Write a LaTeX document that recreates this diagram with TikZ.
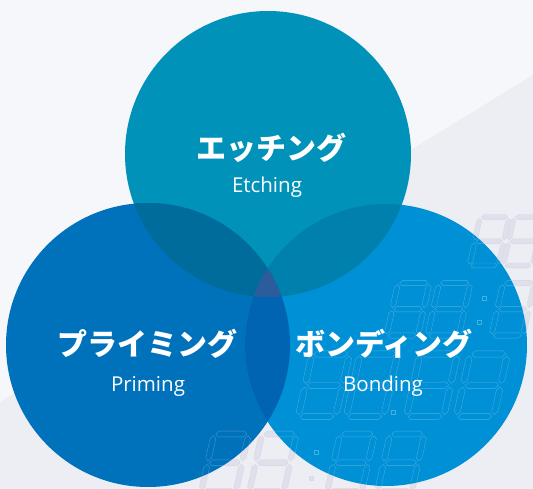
\documentclass[tikz,border=0pt]{standalone}
\usepackage{fontspec}
\newfontfamily\jpfont{Noto Sans CJK JP}
\newfontfamily\enfont{Open Sans}
\definecolor{bgA}{HTML}{F6F7FA}
\definecolor{bgB}{HTML}{ECEEF3}
\definecolor{cT}{HTML}{0092B8}
\definecolor{cL}{HTML}{0072BC}
\definecolor{cR}{HTML}{0090D6}
\definecolor{cTL}{HTML}{006C9C}
\definecolor{cTR}{HTML}{0080AC}
\definecolor{cLR}{HTML}{0064B2}
\definecolor{cTLR}{HTML}{2C5C9C}
\definecolor{segfill}{HTML}{E0E0EC}
\definecolor{segline}{HTML}{CACCDE}
\tikzset{
  jp/.style={text=white,font=\jpfont\bfseries\fontsize{30}{32}\selectfont,inner sep=0pt,anchor=base},
  en/.style={text=white,font=\enfont\fontsize{20.5}{23}\selectfont,inner sep=0pt,anchor=base},
}
\newcommand{\hsg}[3]{\path[segp] (#1,#2) -- ++(2.5,-2.5) -- ++({#3-5},0) -- ++(2.5,2.5) -- ++(-2.5,2.5) -- ++({5-#3},0) -- cycle;}
\newcommand{\vsg}[3]{\path[segp] (#1,#2) -- ++(2.5,2.5) -- ++(0,{#3-5}) -- ++(-2.5,2.5) -- ++(-2.5,-2.5) -- ++(0,{5-#3}) -- cycle;}
\newcommand{\segdigit}[3]{\begin{scope}[shift={(#1,#2)},scale=#3,xslant=0.22]
 \hsg{1.5}{0}{27}
 \hsg{1.5}{25}{27}
 \hsg{1.5}{50}{27}
 \vsg{0}{1.5}{22}
 \vsg{30}{1.5}{22}
 \vsg{0}{26.5}{22}
 \vsg{30}{26.5}{22}
\end{scope}}
\newcommand{\segdot}[3]{\begin{scope}[shift={(#1,#2)},scale=#3]\path[segp] (-2,-2) rectangle (2,2);\end{scope}}
\newcommand{\alldigits}{%
 % row A
 \segdigit{480}{217}{0.97}
 \segdigit{514}{217}{0.97}
 % row B
 \segdigit{398}{283}{1.05}
 \segdigit{439}{283}{1.05}
 \segdot{484}{298}{1}
 \segdot{479}{322}{1}
 \segdigit{503}{283}{1.05}
 % row C
 \segdigit{312}{354}{1.25}
 \segdigit{360}{354}{1.25}
 \segdot{393}{412}{1}
 \segdigit{420}{354}{1.25}
 \segdigit{470}{354}{1.25}
 % row D
 \segdigit{214}{434}{1.15}
 \segdigit{262}{434}{1.15}
 \segdot{316}{452}{1}
 \segdot{311}{478}{1}
 \segdigit{340}{434}{1.15}
 \segdigit{390}{434}{1.15}
}
\begin{document}
\begin{tikzpicture}[x=1pt,y=-1pt]
\useasboundingbox (0,0) rectangle (533,489);
\fill[bgA] (0,0) rectangle (533,489);
\fill[bgB] (533,75) -- (533,489) -- (0,489) -- (0,402) -- cycle;
\coordinate (T) at (268,154);
\coordinate (L) at (148,345);
\coordinate (R) at (386,345);
\begin{scope}
\clip (0,0) rectangle (533,489);
% digits on background
\begin{scope}[segp/.style={fill=segfill,draw=segline,line width=0.35pt}]
\alldigits
\end{scope}
% circles
\fill[cT] (T) circle[radius=143pt];
\fill[cL] (L) circle[radius=142pt];
\fill[cR] (R) circle[radius=141pt];
\begin{scope}
 \clip (T) circle[radius=143pt];
 \fill[cTL] (L) circle[radius=142pt];
 \fill[cTR] (R) circle[radius=141pt];
\end{scope}
\begin{scope}
 \clip (L) circle[radius=142pt];
 \fill[cLR] (R) circle[radius=141pt];
 \clip (R) circle[radius=141pt];
 \fill[cTLR] (T) circle[radius=143pt];
\end{scope}
% digit outlines over circles
\begin{scope}[segp/.style={draw=white,draw opacity=0.28,line width=0.35pt}]
\alldigits
\end{scope}
\end{scope}
% labels
\node[jp] (etjp) at (271,160) {エッチング};
\node[en] (eten) at (267,193) {Etching};
\node[jp] (prjp) at (147,355) {プライミング};
\node[en] (pren) at (148,391) {Priming};
\node[jp] (bojp) at (384,355) {ボンディング};
\node[en] (boen) at (383,391) {Bonding};
\end{tikzpicture}
\end{document}
